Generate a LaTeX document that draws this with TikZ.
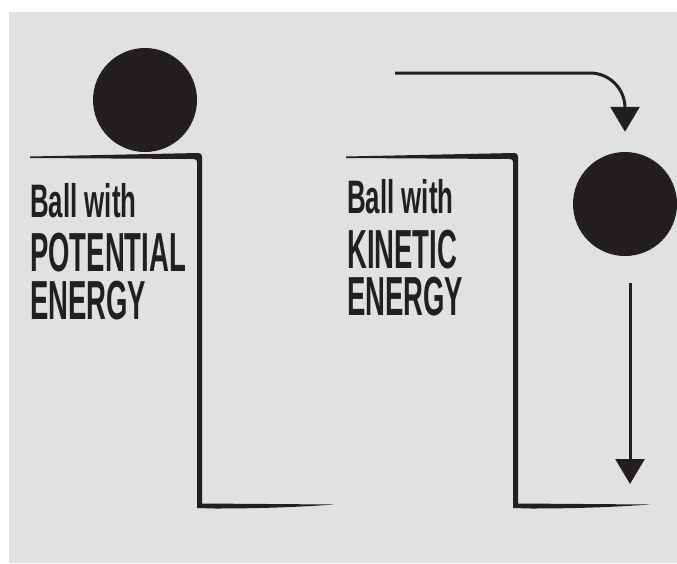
\documentclass[tikz,border=0pt]{standalone}
\usepackage{fontspec}
\usepackage{xcolor}
\usetikzlibrary{arrows.meta}
\newfontfamily\withfont[FakeStretch=0.55]{Liberation Sans}
\newfontfamily\energyfont[FakeStretch=0.5]{Liberation Sans}
\definecolor{ink}{RGB}{35,31,32}
\definecolor{paper}{RGB}{224,225,227}

\begin{document}
\begin{tikzpicture}[x=1pt,y=-1pt,
    ball/.style={circle,fill=ink,minimum size=104pt,inner sep=0pt},
    smalltext/.style={anchor=base west,inner sep=0pt,text height=34pt,text depth=0pt,text=ink,font=\withfont\bfseries\fontsize{47}{47}\selectfont},
    bigtext/.style={anchor=base west,inner sep=0pt,text height=40pt,text depth=0pt,text=ink,font=\energyfont\bfseries\fontsize{55}{55}\selectfont},
    fallarrow/.style={draw=ink,line width=3pt,-{Triangle[width=29pt,length=25pt]}}]
    \useasboundingbox (0,0) rectangle (677,563);
    \fill[white] (0,0) rectangle (677,563);
    \fill[paper] (9,12) rectangle (677,563);
    % shelves
    \fill[ink] (30,156.5) -- (198,153) .. controls (201,153) and (202,154) .. (202,157) -- (202,503.5)
        -- (334,504.5) .. controls (300,507) and (260,508.5) .. (215,508.5) -- (197,508)
        -- (197,162) .. controls (197,160) and (196,159) .. (194,159) -- (30,158) -- cycle;
    \fill[ink,shift={(316,0)}] (30,156.5) -- (198,153) .. controls (201,153) and (202,154) .. (202,157) -- (202,503.5)
        -- (334,504.5) .. controls (300,507) and (260,508.5) .. (215,508.5) -- (197,508)
        -- (197,162) .. controls (197,160) and (196,159) .. (194,159) -- (30,158) -- cycle;
    % balls
    \node[ball] (ballTop) at (145,100) {};
    \node[ball] (ballFall) at (625,204) {};
    % labels
    \node[smalltext] (potWith) at (30,217) {Ball with};
    \node[bigtext] (potName) at (30,271) {POTENTIAL};
    \node[bigtext] (potEnergy) at (30,319) {ENERGY};
    \node[smalltext] (kinWith) at (347,213) {Ball with};
    \node[bigtext] (kinName) at (347,268) {KINETIC};
    \node[bigtext] (kinEnergy) at (347,315) {ENERGY};
    % arrows
    \coordinate (rollStart) at (395,73);
    \coordinate (dropStart) at ([xshift=5pt,yshift=-27pt]ballFall.south);
    \coordinate (dropEnd) at (630,484);
    \draw[fallarrow,rounded corners=35pt] (rollStart) -| ([yshift=20pt]ballFall.north);
    \draw[fallarrow] (dropStart) -- (dropEnd);
\end{tikzpicture}
\end{document}
